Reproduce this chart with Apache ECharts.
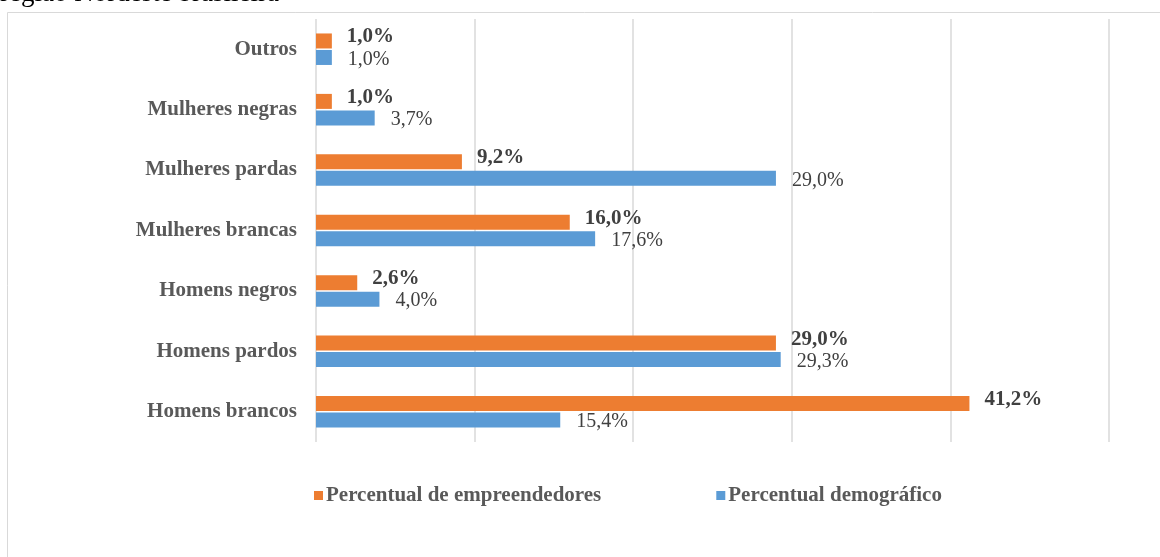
<!DOCTYPE html>
<html>
<head>
<meta charset="utf-8">
<script src="https://cdn.jsdelivr.net/npm/echarts@6/dist/echarts.min.js"></script>
<style>
html,body{margin:0;padding:0;background:#fff;}
#c{width:1160px;height:557px;}
</style>
</head>
<body>
<div id="c"></div>
<script>
const categories = ["Outros", "Mulheres negras", "Mulheres pardas", "Mulheres brancas", "Homens negros", "Homens pardos", "Homens brancos"];
const empreendedores = [1.0, 1.0, 9.2, 16.0, 2.6, 29.0, 41.2];
const demografico = [1.0, 3.7, 29.0, 17.6, 4.0, 29.3, 15.4];
const seriesNames = ["Percentual de empreendedores", "Percentual demográfico"];
const captionText = "região Nordeste brasileira";

const FONT = '"Liberation Serif", "Times New Roman", serif';
const fmt = p => p.value.toFixed(1).replace('.', ',') + '%';

const chart = echarts.init(document.getElementById('c'), null, {renderer: 'canvas'});
chart.setOption({
  animation: false,
  backgroundColor: '#fff',
  graphic: [
    {type: 'rect', shape: {x: 7.5, y: 12.5, width: 1200, height: 600}, style: {fill: 'none', stroke: '#d9d9d9', lineWidth: 1}, silent: true, z: -1},
    {type: 'text', x: 0, y: -20, style: {text: captionText, font: '27px ' + FONT, fill: '#000'}, silent: true}
  ],
  grid: {left: 316, right: 51, top: 19, height: 423, containLabel: false},
  legend: {
    data: seriesNames,
    left: 309, top: 480,
    itemWidth: 9, itemHeight: 9, itemGap: 115,
    icon: 'rect',
    textStyle: {fontFamily: FONT, fontSize: 21, fontWeight: 'bold', color: '#595959', padding: [0, 0, 0, -2]}
  },
  xAxis: {
    type: 'value', min: 0, max: 50, interval: 10,
    axisLabel: {show: false}, axisLine: {show: false}, axisTick: {show: false},
    splitLine: {lineStyle: {color: '#d9d9d9', width: 1.5}}
  },
  yAxis: {
    type: 'category', data: categories, inverse: true,
    axisLine: {show: false}, axisTick: {show: false},
    axisLabel: {fontFamily: FONT, fontSize: 21, fontWeight: 'bold', color: '#595959', margin: 19}
  },
  series: [
    {
      name: seriesNames[0], type: 'bar', data: empreendedores,
      barWidth: 15, barGap: '10%',
      itemStyle: {color: '#ED7D31'},
      label: {show: true, position: 'right', distance: 15, offset: [0, -4], formatter: fmt,
        fontFamily: FONT, fontSize: 21, fontWeight: 'bold', color: '#404040'}
    },
    {
      name: seriesNames[1], type: 'bar', data: demografico,
      barWidth: 15, barGap: '10%',
      itemStyle: {color: '#5B9BD5'},
      label: {show: true, position: 'right', distance: 16, offset: [0, 2], formatter: fmt,
        fontFamily: FONT, fontSize: 20, color: '#404040'}
    }
  ]
});
</script>
</body>
</html>
